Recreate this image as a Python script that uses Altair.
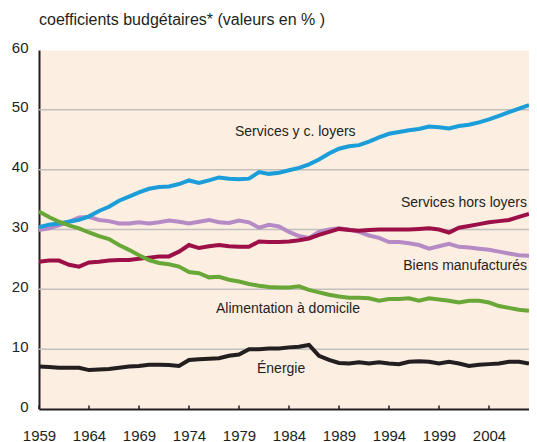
import altair as alt
import pandas as pd

years = list(range(1959, 2009))

services_yc_loyers = [30.4, 30.8, 31.0, 31.3, 31.6, 32.2, 33.1, 33.8, 34.8, 35.5, 36.2, 36.8,
                      37.1, 37.2, 37.6, 38.2, 37.8, 38.2, 38.7, 38.5, 38.4, 38.5,
                      39.6, 39.3, 39.5, 39.9, 40.3, 40.9, 41.7, 42.7, 43.5, 43.9,
                      44.1, 44.7, 45.4, 46.0, 46.3, 46.6, 46.8, 47.2, 47.1, 46.9,
                      47.3, 47.5, 47.9, 48.4, 49.0, 49.6, 50.2, 50.8]
services_hors_loyers = [24.6, 24.8, 24.8, 24.1, 23.8, 24.5, 24.6, 24.8, 24.9, 24.9, 25.1, 25.3,
                        25.5, 25.5, 26.3, 27.4, 26.9, 27.2, 27.4, 27.2, 27.1, 27.1,
                        28.0, 27.9, 27.9, 28.0, 28.2, 28.5, 29.1, 29.6, 30.1, 29.9,
                        29.8, 29.9, 30.0, 30.0, 30.0, 30.0, 30.1, 30.2, 30.0, 29.5,
                        30.3, 30.6, 30.9, 31.2, 31.4, 31.6, 32.1, 32.6]
biens_manufactures = [29.9, 30.2, 30.7, 31.3, 32.0, 32.1, 31.6, 31.4, 31.0, 31.0, 31.2, 31.0,
                      31.2, 31.5, 31.3, 31.0, 31.3, 31.6, 31.2, 31.1, 31.5, 31.2,
                      30.3, 30.8, 30.5, 29.6, 28.9, 28.6, 29.6, 30.0, 30.2, 30.0,
                      29.6, 29.0, 28.6, 27.9, 27.9, 27.7, 27.4, 26.8, 27.2, 27.6,
                      27.1, 27.0, 26.8, 26.6, 26.3, 26.0, 25.7, 25.6]
alimentation = [33.0, 32.1, 31.3, 30.7, 30.2, 29.5, 28.9, 28.4, 27.4, 26.6, 25.7, 24.9,
                24.4, 24.2, 23.8, 22.9, 22.7, 22.0, 22.1, 21.6, 21.3, 20.9,
                20.6, 20.4, 20.3, 20.3, 20.5, 19.9, 19.5, 19.1, 18.8, 18.6,
                18.6, 18.5, 18.1, 18.4, 18.4, 18.5, 18.1, 18.5, 18.3, 18.1,
                17.8, 18.1, 18.1, 17.8, 17.2, 16.9, 16.6, 16.4]
energie = [7.1, 7.0, 6.9, 6.9, 6.9, 6.5, 6.6, 6.7, 6.9, 7.1, 7.2, 7.4,
           7.4, 7.35, 7.2, 8.2, 8.3, 8.4, 8.5, 8.9, 9.1, 10.0,
           10.0, 10.1, 10.1, 10.3, 10.4, 10.7, 8.9, 8.2, 7.7, 7.6,
           7.8, 7.6, 7.8, 7.6, 7.5, 7.9, 8.0, 7.9, 7.6, 7.9,
           7.6, 7.2, 7.4, 7.5, 7.6, 7.9, 7.9, 7.6]

series_names = ["Biens manufacturés", "Services y c. loyers", "Services hors loyers",
                "Alimentation à domicile", "Énergie"]
series_values = [biens_manufactures, services_yc_loyers, services_hors_loyers,
                 alimentation, energie]
series_colors = ["#b68ac4", "#1b9dd9", "#9c0f47", "#69a838", "#231f20"]

# labels placed left-aligned (start point) and right-aligned (end point)
left_label_texts = ["Services y c. loyers", "Alimentation à domicile", "Énergie"]
left_label_years = [1978.6, 1976.7, 1980.8]
left_label_values = [46.3, 16.7, 6.7]
right_label_texts = ["Services hors loyers", "Biens manufacturés"]
right_label_years = [2007.8, 2007.8]
right_label_values = [34.4, 23.9]

y_ticks = [0, 10, 20, 30, 40, 50, 60]
grid_values = [10, 20, 30, 40, 50]
x_ticks = [1959, 1964, 1969, 1974, 1979, 1984, 1989, 1994, 1999, 2004]

title_text = "coefficients budgétaires* (valeurs en % )"

FONT = "Liberation Sans Narrow, Arial Narrow, Liberation Sans, Arial, sans-serif"
TXT = "#231f20"

rows = []
for name, vals in zip(series_names, series_values):
    for yr, v in zip(years, vals):
        rows.append({"serie": name, "annee": yr, "valeur": v})
df = pd.DataFrame(rows)

left_df = pd.DataFrame({"t": left_label_texts, "x": left_label_years, "y": left_label_values})
right_df = pd.DataFrame({"t": right_label_texts, "x": right_label_years, "y": right_label_values})
grid_df = pd.DataFrame({"g": grid_values})
ticks_df = pd.DataFrame({"yr": x_ticks, "y0": [0] * len(x_ticks)})

x_scale = alt.Scale(domain=[1959, 2008], nice=False, zero=False)
y_scale = alt.Scale(domain=[0, 60], nice=False, zero=True)

x_axis = alt.Axis(values=x_ticks, format="d", title=None, ticks=False, grid=False,
                  domainColor=TXT, domainWidth=2, labelFont=FONT, labelFontSize=15,
                  labelColor=TXT, labelPadding=19, labelFlush=False)
y_axis = alt.Axis(values=y_ticks, title=None, ticks=False, grid=False,
                  domainColor=TXT, domainWidth=2, labelFont=FONT, labelFontSize=15,
                  labelColor=TXT, labelPadding=11, labelOffset=-3)

grid = alt.Chart(grid_df).mark_rule(color="#c2c0bd", strokeWidth=1.5).encode(
    y=alt.Y("g:Q", scale=y_scale, axis=y_axis)
)

lines = alt.Chart(df).mark_line(strokeWidth=4).encode(
    x=alt.X("annee:Q", scale=x_scale, axis=x_axis),
    y=alt.Y("valeur:Q", scale=y_scale, axis=y_axis),
    color=alt.Color("serie:N", scale=alt.Scale(domain=series_names, range=series_colors),
                    legend=None),
    detail="serie:N",
    order=alt.Order("annee:Q"),
)

ticks = alt.Chart(ticks_df).mark_rule(color=TXT, strokeWidth=1.5).encode(
    x=alt.X("yr:Q", scale=x_scale, axis=x_axis),
    y=alt.Y("y0:Q", scale=y_scale, axis=y_axis),
    y2=alt.Y2Datum(0.6),
)

texts_left = alt.Chart(left_df).mark_text(align="left", baseline="middle", font=FONT,
                                           fontSize=14, color=TXT).encode(
    x=alt.X("x:Q", scale=x_scale, axis=x_axis),
    y=alt.Y("y:Q", scale=y_scale, axis=y_axis),
    text="t:N",
)
texts_right = alt.Chart(right_df).mark_text(align="right", baseline="middle", font=FONT,
                                             fontSize=14, color=TXT).encode(
    x=alt.X("x:Q", scale=x_scale, axis=x_axis),
    y=alt.Y("y:Q", scale=y_scale, axis=y_axis),
    text="t:N",
)

chart = alt.layer(grid, lines, ticks, texts_left, texts_right).properties(
    width=490,
    height=359,
    autosize=alt.AutoSizeParams(type="none"),
    padding={"left": 31, "top": 42, "right": 0, "bottom": 33},
    title=alt.TitleParams(text=title_text, anchor="start", frame="group", font=FONT,
                          fontSize=16, fontWeight="normal", color=TXT, offset=12),
).configure_view(fill="#fdeee2", stroke="transparent")

chart.save("out.html", embed_options={"renderer": "svg", "actions": False})
